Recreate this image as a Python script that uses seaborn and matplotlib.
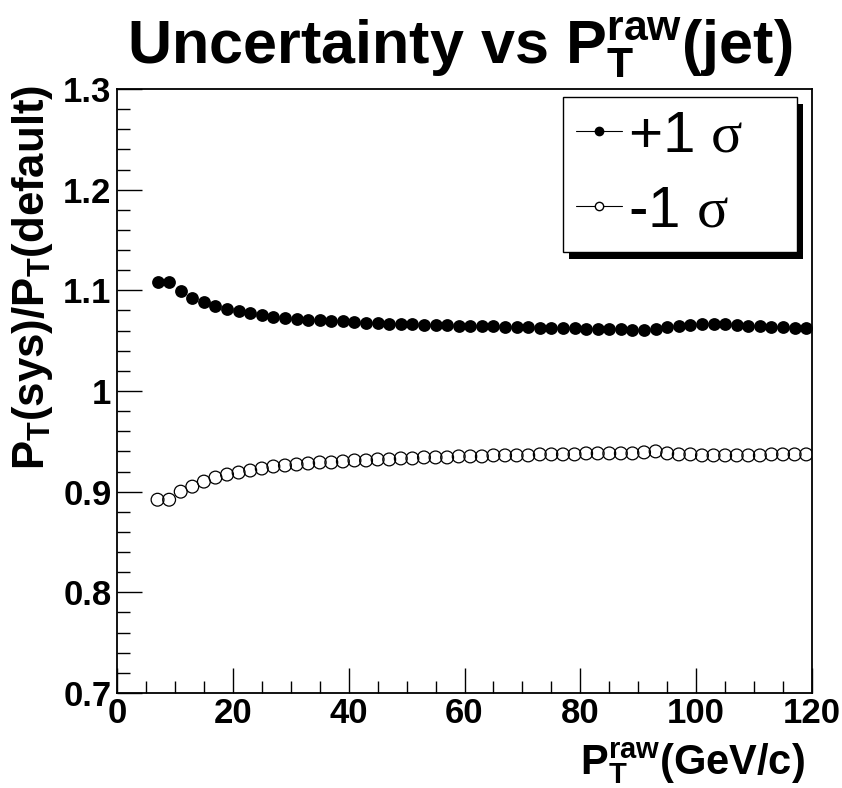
import numpy as np
import pandas as pd
import matplotlib
matplotlib.use("Agg")
import matplotlib.pyplot as plt
import seaborn as sns
from matplotlib.lines import Line2D
from matplotlib.patches import Rectangle
from matplotlib.transforms import IdentityTransform

# ---- data ----
pt_raw = list(range(7, 120, 2))
plus_sigma = [1.108, 1.108, 1.099, 1.092, 1.088, 1.084, 1.081, 1.079, 1.077, 1.0755,
              1.074, 1.073, 1.072, 1.071, 1.0705, 1.070, 1.0695, 1.069, 1.068, 1.0675,
              1.067, 1.0667, 1.0663, 1.066, 1.0656, 1.0653, 1.065, 1.065, 1.065, 1.0646,
              1.064, 1.0635, 1.0633, 1.063, 1.063, 1.0625, 1.0623, 1.062, 1.062, 1.0617,
              1.0615, 1.061, 1.061, 1.0613, 1.064, 1.065, 1.0656, 1.0666, 1.0666, 1.0666,
              1.0656, 1.065, 1.0646, 1.064, 1.0633, 1.0623, 1.063]
minus_sigma = [0.892, 0.892, 0.900, 0.905, 0.910, 0.914, 0.917, 0.919, 0.921, 0.923,
               0.925, 0.926, 0.927, 0.928, 0.929, 0.929, 0.930, 0.931, 0.931, 0.932,
               0.932, 0.933, 0.933, 0.934, 0.934, 0.934, 0.935, 0.935, 0.935, 0.936,
               0.936, 0.936, 0.936, 0.937, 0.937, 0.937, 0.937, 0.938, 0.938, 0.938,
               0.938, 0.938, 0.939, 0.940, 0.938, 0.937, 0.937, 0.936, 0.936, 0.936,
               0.936, 0.936, 0.936, 0.937, 0.937, 0.937, 0.937]
series_labels = [r"+1 $\sigma$", r"-1 $\sigma$"]
title_text = r"Uncertainty vs $\mathrm{P}_{\mathrm{T}}^{\mathrm{raw}}$(jet)"
xlabel_text = r"$\mathrm{P}_{\mathrm{T}}^{\mathrm{raw}}$(GeV/c)"
ylabel_text = r"$\mathrm{P}_{\mathrm{T}}$(sys)/$\mathrm{P}_{\mathrm{T}}$(default)"
x_ticks = [0, 20, 40, 60, 80, 100, 120]
y_ticks = [0.7, 0.8, 0.9, 1.0, 1.1, 1.2, 1.3]
y_ticklabels = ["0.7", "0.8", "0.9", "1", "1.1", "1.2", "1.3"]

df = pd.DataFrame({"pt": pt_raw, "plus": plus_sigma, "minus": minus_sigma})

sns.set_theme(style="white")
plt.rcParams["font.family"] = ["Liberation Sans", "DejaVu Sans"]
plt.rcParams["text.color"] = "black"
plt.rcParams["axes.labelcolor"] = "black"
plt.rcParams["xtick.color"] = "black"
plt.rcParams["ytick.color"] = "black"
plt.rcParams["mathtext.fontset"] = "custom"
plt.rcParams["mathtext.rm"] = "Liberation Sans:bold"
plt.rcParams["mathtext.bf"] = "Liberation Sans:bold"
plt.rcParams["mathtext.it"] = "Liberation Serif"
plt.rcParams["mathtext.sf"] = "Liberation Sans"

fig = plt.figure(figsize=(8.42, 7.88), dpi=100)
ax = fig.add_axes([117/842, 1 - 693/788, 695/842, 604/788])

sns.scatterplot(data=df, x="pt", y="plus", ax=ax, color="black", s=85,
                linewidth=0, marker="o", zorder=3)
sns.scatterplot(data=df, x="pt", y="minus", ax=ax, marker="o", s=85,
                facecolors="none", edgecolor="black", linewidth=0.9, zorder=3)

ax.set_xlim(0, 120)
ax.set_ylim(0.7, 1.3)
ax.set_xticks(x_ticks)
ax.set_xticklabels([str(v) for v in x_ticks])
ax.set_yticks(y_ticks)
ax.set_yticklabels(y_ticklabels)
ax.set_xticks(np.arange(0, 121, 5), minor=True)
ax.set_yticks(np.arange(0.7, 1.3001, 0.02), minor=True)
ax.tick_params(axis="both", which="major", direction="in", length=18, width=1,
               colors="black", labelsize=25, left=True, bottom=True)
ax.tick_params(axis="y", which="major", pad=4)
ax.tick_params(axis="x", which="major", pad=3)
ax.tick_params(axis="both", which="minor", direction="in", length=9, width=1,
               color="black", left=True, bottom=True)
for lab in ax.get_xticklabels() + ax.get_yticklabels():
    lab.set_fontweight("bold")
for sp in ax.spines.values():
    sp.set_visible(True)
    sp.set_color("black")
    sp.set_linewidth(1.3)

ax.set_xlabel("")
ax.set_ylabel("")
fig.text(805/842, 1 - 775/788, xlabel_text, ha="right", va="baseline",
         fontsize=30, fontweight="bold")
fig.text(10/842, 1 - 85/788, ylabel_text, ha="right", va="top", rotation=90,
         rotation_mode="anchor", fontsize=31.5, fontweight="bold")
fig.text(460/842, 1 - 64/788, title_text, ha="center", va="baseline",
         fontsize=44, fontweight="bold")

handles = [
    Line2D([], [], color="black", linewidth=0.8, marker="o", markersize=6,
           markerfacecolor="black", markeredgecolor="black"),
    Line2D([], [], color="black", linewidth=0.8, marker="o", markersize=6,
           markerfacecolor="white", markeredgecolor="black"),
]
leg = ax.legend(handles, series_labels, loc="upper left", mode="expand",
                bbox_to_anchor=(0.6417, 0.0, 0.3367, 0.9868), frameon=True,
                fancybox=False, shadow=False, framealpha=1.0, fontsize=42,
                handlelength=0.8, handletextpad=0.1, borderpad=0.22,
                labelspacing=0.36, borderaxespad=0.0)
leg.get_frame().set_edgecolor("black")
leg.get_frame().set_linewidth(1.0)
leg.get_frame().set_facecolor("white")
leg.set_zorder(6)

fig.canvas.draw()
bb = leg.get_frame().get_window_extent()
shadow = Rectangle((bb.x0 + 6, bb.y0 - 7), bb.width, bb.height,
                   transform=IdentityTransform(), facecolor="black",
                   edgecolor="none", clip_on=False, zorder=5)
ax.add_patch(shadow)

fig.savefig("out.png", dpi=100, facecolor="white")
